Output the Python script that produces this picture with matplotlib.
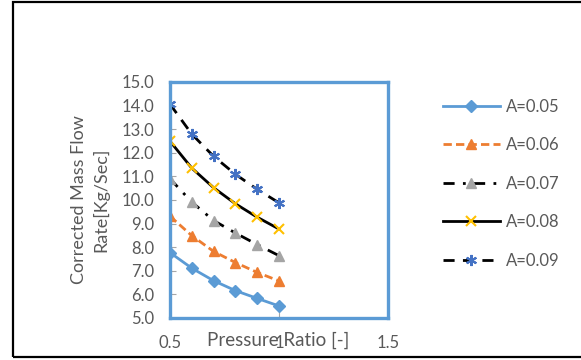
import matplotlib.pyplot as plt
from matplotlib.patches import Rectangle

plt.rcParams['font.family'] = ['Lato', 'DejaVu Sans']

# pressure ratio and corrected mass flow
pressureRatio = [0.5, 0.6, 0.7, 0.8, 0.9, 1.0]
flowA005 = [7.77, 7.11, 6.58, 6.16, 5.83, 5.51]
flowA006 = [9.31, 8.49, 7.82, 7.35, 6.93, 6.57]
flowA007 = [10.90, 9.91, 9.13, 8.60, 8.11, 7.64]
flowA008 = [12.49, 11.35, 10.52, 9.84, 9.27, 8.77]
flowA009 = [14.06, 12.79, 11.85, 11.09, 10.45, 9.88]
seriesLabels = ['A=0.05', 'A=0.06', 'A=0.07', 'A=0.08', 'A=0.09']

textGrey = '#595959'

fig = plt.figure(figsize=(5.81, 3.60), dpi=100)
ax = fig.add_axes([0.2926, 0.1167, 0.3752, 0.6556])

# chart border (right edge falls outside the picture)
fig.patches.append(Rectangle((0.0224, 0.008), 1.0, 0.986, transform=fig.transFigure,
                             fill=False, edgecolor='black', linewidth=1.6))

ax.plot(pressureRatio, flowA005, color='#5B9BD5', linewidth=2, marker='D',
        markersize=6, label=seriesLabels[0])
ax.plot(pressureRatio, flowA006, color='#ED7D31', linewidth=2, linestyle=(0, (3, 1.5)),
        marker='^', markersize=7.5, label=seriesLabels[1])
ax.plot(pressureRatio, flowA007, color='black', linewidth=2, linestyle=(0, (4, 3, 1, 3)),
        marker='^', markersize=7.5, markerfacecolor='#A5A5A5', markeredgecolor='#A5A5A5',
        label=seriesLabels[2])
ax.plot(pressureRatio, flowA008, color='black', linewidth=2, marker='x',
        markersize=7.5, markeredgewidth=1.5, markeredgecolor='#FFC000', label=seriesLabels[3])
ax.plot(pressureRatio, flowA009, color='black', linewidth=2, linestyle=(0, (4, 3)),
        marker=(6, 2, 0), markersize=8, markeredgewidth=1.5, markeredgecolor='#4472C4',
        label=seriesLabels[4])

ax.set_xlim(0.5, 1.5)
ax.set_ylim(5.0, 15.0)
ax.set_xticks([0.5, 1.0, 1.5])
ax.set_xticklabels(['0.5', '1', '1.5'])
ax.set_yticks([5 + i for i in range(11)])
ax.set_yticklabels(['%.1f' % (5 + i) for i in range(11)])
ax.tick_params(colors=textGrey, labelsize=12, direction='in', length=4, pad=11)
ax.tick_params(axis='x', pad=12)
ax.tick_params(axis='both', color='#A6A6A6')

for spine in ax.spines.values():
    spine.set_color('#5B9BD5')
    spine.set_linewidth(2.4)

ax.set_xlabel('Pressure Ratio [-]', fontsize=13.5, color=textGrey)
ax.xaxis.set_label_coords(0.495, -0.058)
ax.set_ylabel('Corrected Mass Flow\nRate[Kg/Sec]', fontsize=13, color=textGrey,
              labelpad=9, linespacing=1.4)

leg = ax.legend(loc='upper left', bbox_to_anchor=(1.222, 0.958), frameon=False,
                fontsize=12, handlelength=3.4, labelspacing=1.35, handletextpad=0.36,
                borderaxespad=0)
for text in leg.get_texts():
    text.set_color(textGrey)

fig.savefig('out.png', dpi=100)
